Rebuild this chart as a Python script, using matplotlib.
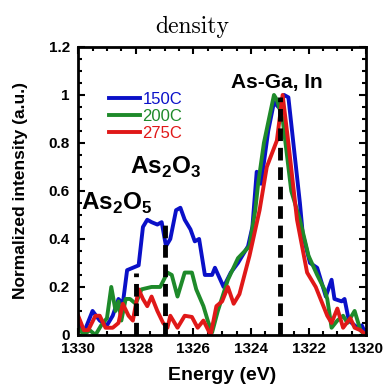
import matplotlib
matplotlib.use('Agg')
import matplotlib.pyplot as plt
from matplotlib.ticker import MultipleLocator, FormatStrFormatter

plt.rcParams['font.family'] = 'Liberation Sans'
plt.rcParams['mathtext.fontset'] = 'custom'
plt.rcParams['mathtext.bf'] = 'Liberation Sans:bold'
plt.rcParams['mathtext.rm'] = 'Liberation Sans:bold'

# ----------------- data -----------------
e_150 = [1330.0, 1329.8, 1329.5, 1329.25, 1329.0, 1328.8, 1328.6, 1328.45, 1328.3, 1328.1,
         1327.9, 1327.75, 1327.6, 1327.45, 1327.25, 1327.1, 1326.95, 1326.8, 1326.6, 1326.45,
         1326.3, 1326.1, 1325.95, 1325.8, 1325.6, 1325.35, 1325.25, 1324.95, 1324.7, 1324.45,
         1324.1, 1323.95, 1323.8, 1323.65, 1323.4, 1323.2, 1323.05, 1322.85, 1322.7, 1322.3,
         1322.2, 1321.95, 1321.7, 1321.4, 1321.2, 1321.1, 1320.85, 1320.75, 1320.6, 1320.3,
         1320.15, 1320.0]
i_150 = [0.06, 0.01, 0.10, 0.06, 0.04, 0.08, 0.15, 0.13, 0.27, 0.28,
         0.29, 0.45, 0.48, 0.47, 0.46, 0.47, 0.37, 0.40, 0.52, 0.53,
         0.48, 0.44, 0.39, 0.40, 0.25, 0.25, 0.28, 0.20, 0.26, 0.30,
         0.37, 0.45, 0.68, 0.63, 0.85, 0.97, 0.95, 1.0, 0.99, 0.55,
         0.42, 0.30, 0.28, 0.16, 0.23, 0.15, 0.14, 0.15, 0.06, 0.03,
         0.04, 0.0]

e_200 = [1330.0, 1329.8, 1329.6, 1329.4, 1329.2, 1329.0, 1328.85, 1328.7, 1328.6, 1328.5,
         1328.35, 1328.2, 1328.0, 1327.8, 1327.45, 1327.15, 1326.9, 1326.75, 1326.55, 1326.3,
         1326.05, 1325.9, 1325.65, 1325.5, 1325.35, 1325.15, 1324.8, 1324.45, 1324.05, 1323.85,
         1323.75, 1323.55, 1323.2, 1323.1, 1322.9, 1322.6, 1322.3, 1322.0, 1321.7, 1321.45,
         1321.35, 1321.2, 1321.0, 1320.8, 1320.65, 1320.4, 1320.2, 1320.05]
i_200 = [0.03, 0.0, 0.02, 0.0, 0.04, 0.07, 0.20, 0.10, 0.14, 0.06,
         0.15, 0.15, 0.13, 0.19, 0.20, 0.20, 0.26, 0.25, 0.16, 0.26,
         0.26, 0.19, 0.12, 0.06, 0.01, 0.10, 0.23, 0.32, 0.37, 0.52,
         0.63, 0.80, 1.0, 0.98, 0.90, 0.60, 0.48, 0.33, 0.25, 0.19,
         0.15, 0.03, 0.06, 0.08, 0.05, 0.10, 0.02, 0.0]

e_275 = [1330.0, 1329.8, 1329.65, 1329.4, 1329.25, 1329.05, 1328.8, 1328.6, 1328.45, 1328.25,
         1328.1, 1327.9, 1327.75, 1327.6, 1327.45, 1327.25, 1327.05, 1326.9, 1326.8, 1326.55,
         1326.3, 1326.05, 1325.85, 1325.65, 1325.4, 1325.2, 1325.0, 1324.8, 1324.6, 1324.4,
         1324.05, 1323.7, 1323.45, 1323.1, 1322.9, 1322.7, 1322.4, 1322.05, 1321.75, 1321.35,
         1321.2, 1321.0, 1320.8, 1320.55, 1320.4, 1320.2, 1320.0]
i_275 = [0.08, 0.02, 0.02, 0.08, 0.08, 0.03, 0.03, 0.05, 0.13, 0.08,
         0.06, 0.19, 0.15, 0.12, 0.16, 0.10, 0.05, 0.03, 0.08, 0.03,
         0.08, 0.075, 0.03, 0.06, 0.0, 0.12, 0.14, 0.20, 0.13, 0.17,
         0.33, 0.52, 0.70, 0.81, 1.0, 0.80, 0.48, 0.26, 0.20, 0.08,
         0.05, 0.11, 0.03, 0.07, 0.03, 0.02, 0.0]

# reference positions (eV) and heights of the dashed markers
ref_e = [1328.0, 1327.0, 1323.0]
ref_h = [0.26, 0.47, 0.99]
ref_labels = ['As$_\\mathbf{2}$O$_\\mathbf{5}$', 'As$_\\mathbf{2}$O$_\\mathbf{3}$', 'As-Ga, In']
ref_sizes = [17.5, 17.5, 15]
ref_text_xy = [(1328.65, 0.55), (1326.95, 0.70), (1323.1, 1.05)]

# ----------------- figure -----------------
fig = plt.figure(figsize=(3.85, 3.85), dpi=100)
ax = fig.add_axes([0.203, 0.13, 0.748, 0.748])

ax.plot(e_150, i_150, color='#0a10c8', lw=2.8, label='150C')
ax.plot(e_200, i_200, color='#1e8a2a', lw=2.8, label='200C')
ax.plot(e_275, i_275, color='#e01818', lw=2.8, label='275C')

for x, h in zip(ref_e, ref_h):
    ax.plot([x, x], [0, h], color='black', lw=3.5, linestyle=(0, (2.6, 1.4)), zorder=5)

for lab, (x, y), fs in zip(ref_labels, ref_text_xy, ref_sizes):
    ax.text(x, y, lab, ha='center', va='center', fontsize=fs, fontweight='bold')

ax.set_xlim(1330, 1320)
ax.set_ylim(0, 1.2)
ax.xaxis.set_major_locator(MultipleLocator(2))
ax.xaxis.set_minor_locator(MultipleLocator(0.5))
ax.yaxis.set_major_locator(MultipleLocator(0.2))
ax.yaxis.set_minor_locator(MultipleLocator(0.05))
ax.yaxis.set_major_formatter(FormatStrFormatter('%g'))
ax.tick_params(which='both', direction='in', top=True, right=True, width=1.5)
ax.tick_params(which='major', length=5, labelsize=11)
ax.tick_params(axis='y', which='major', pad=6)
ax.tick_params(axis='x', which='major', pad=5)
ax.tick_params(which='minor', length=3)
for lbl in ax.get_xticklabels() + ax.get_yticklabels():
    lbl.set_fontweight('bold')
for s in ax.spines.values():
    s.set_linewidth(2)

ax.set_xlabel('Energy (eV)', fontsize=14, fontweight='bold', labelpad=8)
ax.set_ylabel('Normalized intensity (a.u.)', fontsize=12.5, fontweight='bold', labelpad=15)

leg = ax.legend(loc='upper left', bbox_to_anchor=(0.055, 0.895), frameon=False,
                handlelength=1.85, handletextpad=0.15, labelspacing=0.1,
                fontsize=12, labelcolor='linecolor')

fig.text(0.5, 0.93, 'density', ha='center', va='center', fontsize=17, family='cmr10')

plt.savefig('out.png', dpi=100)
